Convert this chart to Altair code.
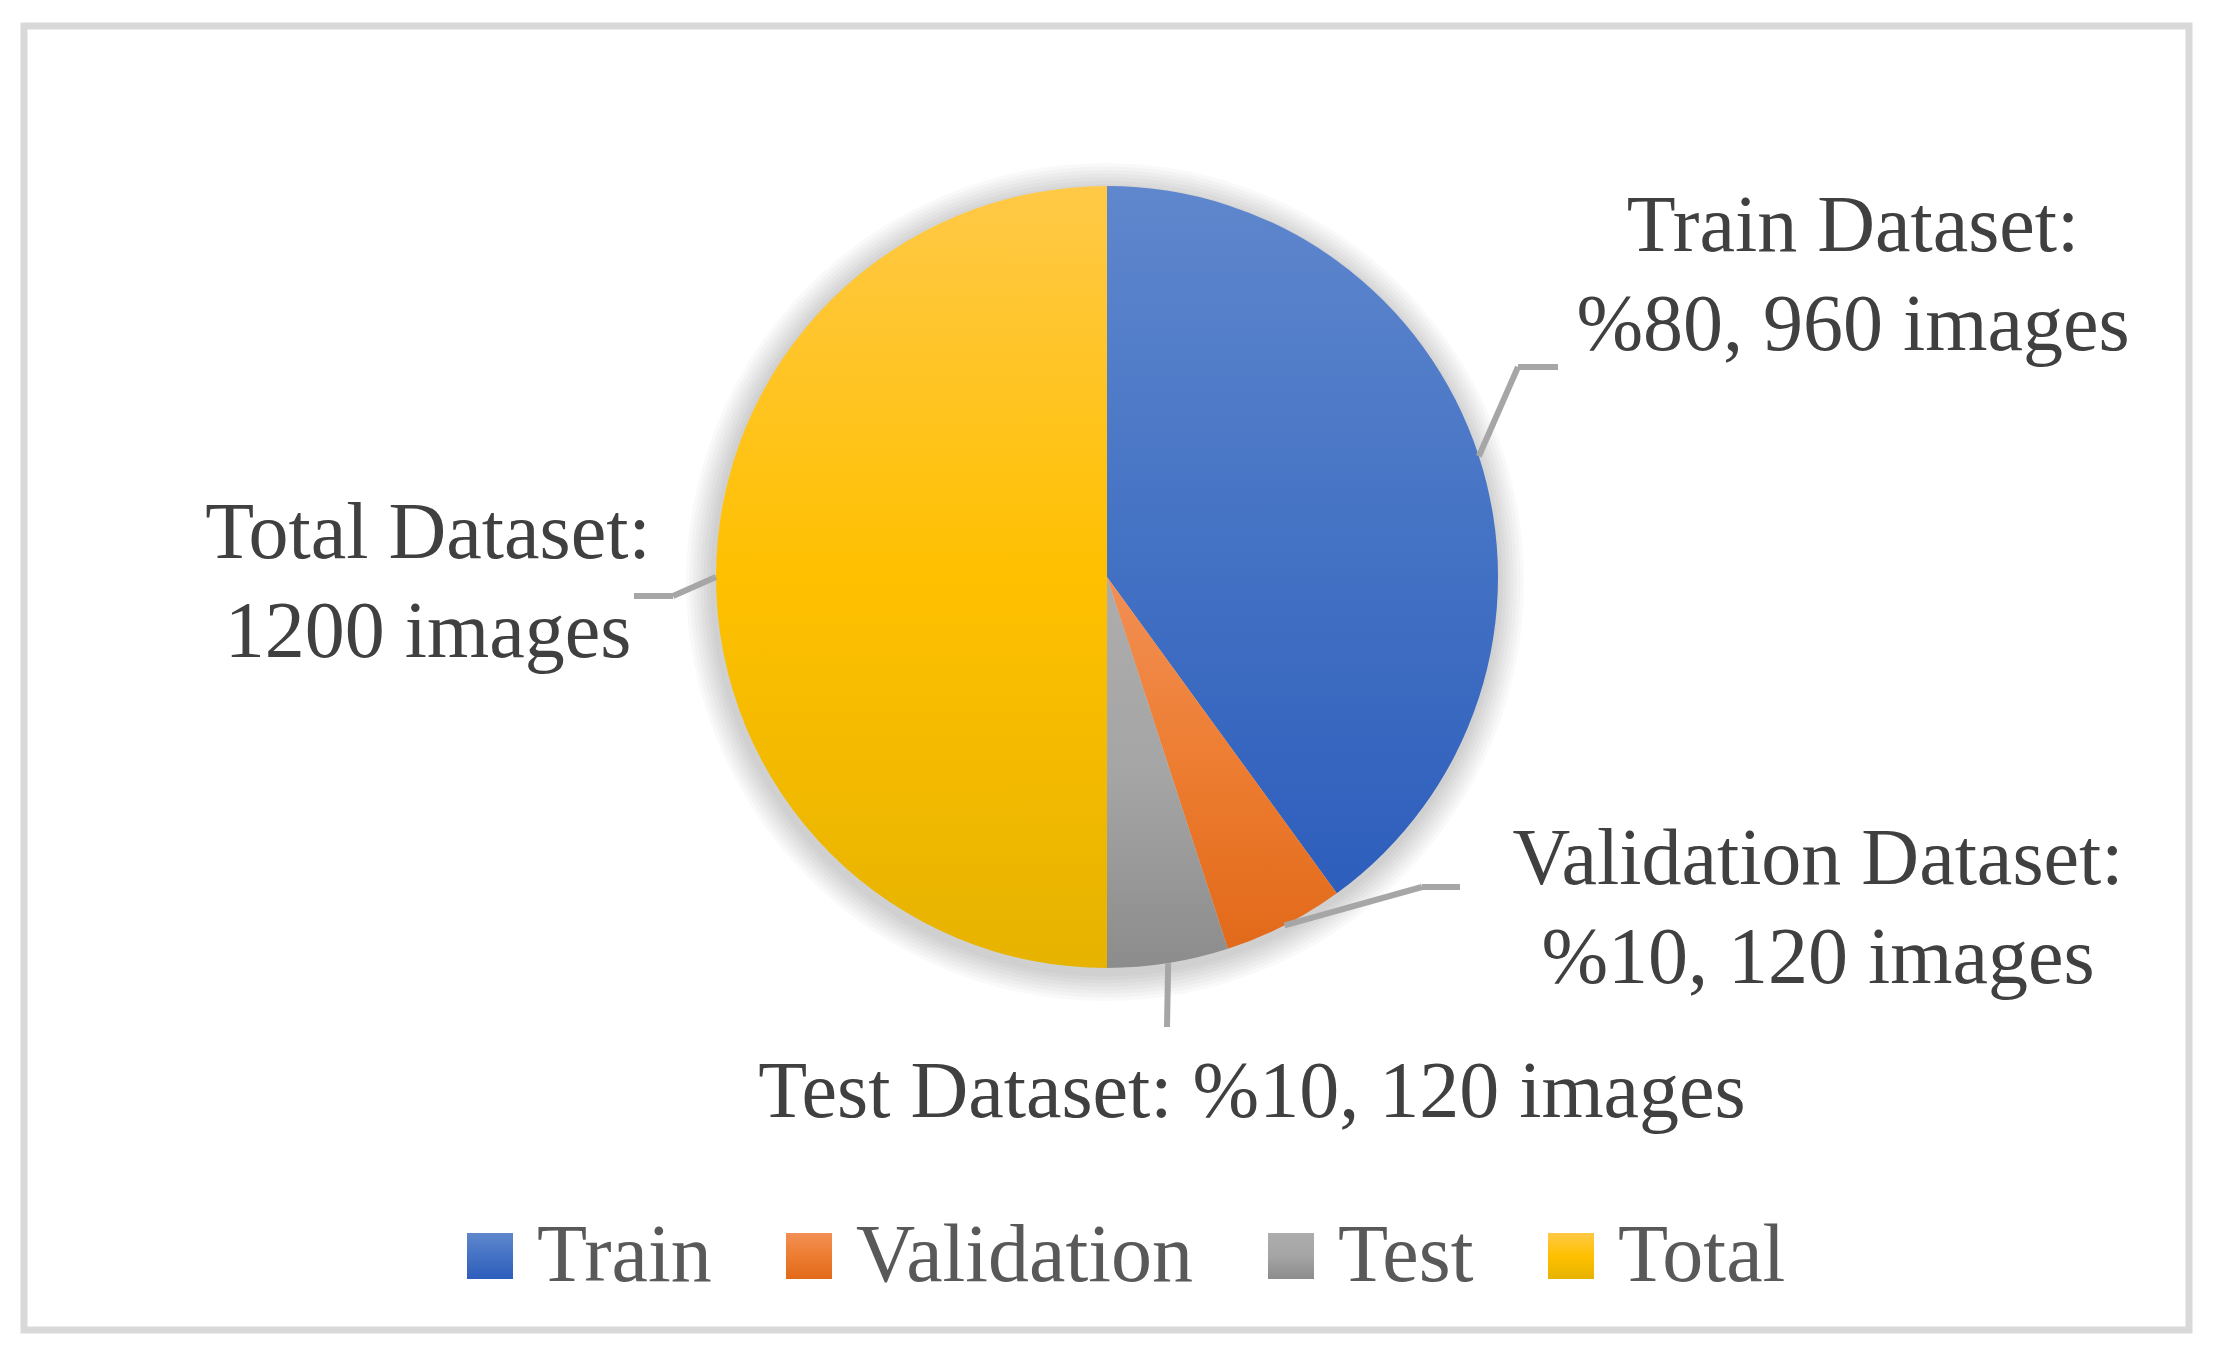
import altair as alt
import pandas as pd

# ---------------- data ----------------
categories = ["Train", "Validation", "Test", "Total"]
images = [960, 120, 120, 1200]
label_lines = [
    "Train Dataset:\n%80, 960 images",
    "Validation Dataset:\n%10, 120 images",
    "Test Dataset: %10, 120 images",
    "Total Dataset:\n1200 images",
]

# ---------------- styles ----------------
grad_stops = {
    "Train": ("#5f87cd", "#4472c4", "#2d5ebc"),
    "Validation": ("#f28f55", "#ed7d31", "#e2691a"),
    "Test": ("#adadad", "#a5a5a5", "#8c8c8c"),
    "Total": ("#ffc947", "#ffc000", "#e6b300"),
}


def grad_expr(c):
    a, b, d = grad_stops[c]
    return {"expr": ("{gradient:'linear',x1:0,y1:0,x2:0,y2:1,stops:["
                     f"{{offset:0,color:'{a}'}},{{offset:0.5,color:'{b}'}},{{offset:1,color:'{d}'}}]}}")}


FONT = "Liberation Serif"
W, H = 2205, 1340
CX, CY, R = 1099, 569, 391

# label layout (plot pixel coordinates)
label_x = [1845, 1810, 1244, 420]
label_y = [243, 876, 1109, 550]
elbow_x = [1510, 1414, 1159, 665]
elbow_y = [359, 879, 1019, 588]
end_x = [1550, 1452, 1159, 626]
end_y = [359, 879, 1019, 588]

df = pd.DataFrame({
    "category": categories,
    "images": images,
    "order": list(range(len(categories))),
    "label": label_lines,
    "lx": label_x, "ly": label_y,
    "ex": elbow_x, "ey": elbow_y,
    "tx": end_x, "ty": end_y,
})

base = alt.Chart(df)

# frame
frame = alt.Chart(pd.DataFrame({"a": [0]})).mark_rect(
    fill="white", stroke="#d9d9d9", strokeWidth=7
).encode(x=alt.value(16), x2=alt.value(2181), y=alt.value(18), y2=alt.value(1322))

# soft shadow rings
shadow_layers = []
for k in range(1, 9):
    shadow_layers.append(
        alt.Chart(pd.DataFrame({"a": [0]})).mark_arc(
            theta=0, theta2=6.2832, radius=R + 3.5 * k, fill="#000000", opacity=0.024
        ).encode(x=alt.value(CX - 2), y=alt.value(CY + 5))
    )

pie = base.mark_arc(radius=R, stroke=None).encode(
    theta=alt.Theta("images:Q", stack=True),
    order=alt.Order("order:Q"),
    color=alt.Color(
        "category:N",
        scale=alt.Scale(domain=categories, range=[grad_expr(c) for c in categories]),
        sort=categories,
        legend=alt.Legend(
            title=None, orient="none", legendX=441, legendY=1207, direction="horizontal",
            symbolType="square", symbolSize=2116, symbolStrokeWidth=0,
            labelFont=FONT, labelFontSize=82, labelColor="#595959",
            labelOffset=6, columnPadding=56, padding=0, labelLimit=1000,
        ),
    ),
    x=alt.value(CX), y=alt.value(CY),
)

geo = base.transform_window(
    cum="sum(images)", sort=[alt.SortField("order")], frame=[None, 0]
).transform_joinaggregate(tot="sum(images)").transform_calculate(
    mid="2*PI*(datum.cum - datum.images/2)/datum.tot",
    sx=f"{CX}+{R}*sin(datum.mid)",
    sy=f"{CY}-{R}*cos(datum.mid)",
)

seg1 = geo.mark_rule(color="#a6a6a6", strokeWidth=6, strokeCap="butt").encode(
    x=alt.X("sx:Q", scale=None, axis=None),
    y=alt.Y("sy:Q", scale=None, axis=None),
    x2="ex:Q", y2="ey:Q",
)
seg2 = geo.mark_rule(color="#a6a6a6", strokeWidth=6, strokeCap="butt").encode(
    x=alt.X("ex:Q", scale=None, axis=None),
    y=alt.Y("ey:Q", scale=None, axis=None),
    x2="tx:Q", y2="ty:Q",
)

labels = base.mark_text(
    font=FONT, fontSize=80, color="#404040", align="center", baseline="alphabetic",
    lineBreak="\n", lineHeight=99,
).encode(
    x=alt.X("lx:Q", scale=None, axis=None),
    y=alt.Y("ly:Q", scale=None, axis=None),
    text="label:N",
)

chart = alt.layer(frame, *shadow_layers, pie, seg1, seg2, labels).properties(
    width=W, height=H, padding=0, autosize=alt.AutoSizeParams(type="none")
).configure_view(stroke=None)

chart.save("out.html", embed_options={"renderer": "svg", "actions": False})
